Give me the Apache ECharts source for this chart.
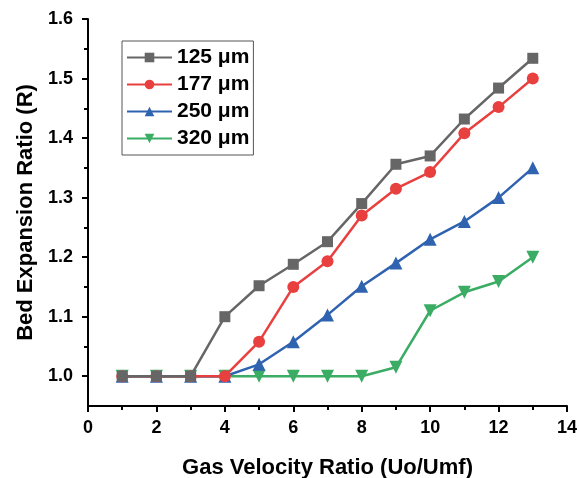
<!DOCTYPE html>
<html><head><meta charset="utf-8">
<script src="https://cdn.jsdelivr.net/npm/echarts@6/dist/echarts.min.js"></script>
<style>html,body{margin:0;padding:0;background:#fff}#c{width:580px;height:478px}</style>
</head><body><div id="c"></div>
<script>
const xValues = [1,2,3,4,5,6,7,8,9,10,11,12,13];
const s125 = [1.0,1.0,1.0,1.10,1.152,1.188,1.226,1.29,1.356,1.37,1.432,1.484,1.534];
const s177 = [1.0,1.0,1.0,1.0,1.058,1.15,1.193,1.27,1.315,1.343,1.408,1.452,1.50];
const s250 = [1.0,1.0,1.0,1.0,1.02,1.058,1.103,1.151,1.19,1.23,1.26,1.30,1.35];
const s320 = [1.0,1.0,1.0,1.0,1.0,1.0,1.0,1.0,1.015,1.11,1.141,1.159,1.20];
const names = ['125 μm','177 μm','250 μm','320 μm'];
const yTicks = [1.0,1.1,1.2,1.3,1.4,1.5,1.6];
const yMinorTicks = [1.05,1.15,1.25,1.35,1.45,1.55];
const colors = ['#666666','#e8403f','#2f63b0','#3aac64'];
const symbols = ['rect','circle','triangle','path://M0,0 L10,0 L5,9 Z'];
const sizes = [11,12,13,13];
const all = [s125,s177,s250,s320];
const chart = echarts.init(document.getElementById('c'));
const F = 'Arial, Liberation Sans, sans-serif';
const tickStyle = {width:2,color:'#000'};
chart.setOption({
  animation:false,
  grid:{left:88,right:13,top:19,bottom:72,containLabel:false,outerBoundsMode:'none'},
  legend:{
    left:122,top:41,orient:'vertical',itemWidth:45,itemHeight:12,itemGap:6,
    borderColor:'#555',borderWidth:1,padding:[6,4,6,4],
    textStyle:{fontFamily:F,fontWeight:'bold',fontSize:21,color:'#000'},
    data:names
  },
  xAxis:{type:'value',min:0,max:14,interval:2,
    name:'Gas Velocity Ratio (Uo/Umf)',nameLocation:'middle',nameGap:51,
    nameTextStyle:{fontFamily:F,fontWeight:'bold',fontSize:22,color:'#000'},
    axisLine:{lineStyle:{color:'#000',width:2}},
    axisTick:{inside:false,length:6,lineStyle:tickStyle},
    minorTick:{show:true,splitNumber:2,length:4,lineStyle:tickStyle},
    axisLabel:{fontFamily:F,fontWeight:'bold',fontSize:18,color:'#000',margin:13},
    splitLine:{show:false}},
  yAxis:[{type:'value',min:0.95,max:1.6,
    name:'Bed Expansion Ratio (R)',nameLocation:'middle',nameGap:51,
    nameTextStyle:{fontFamily:F,fontWeight:'bold',fontSize:22,color:'#000'},
    axisLine:{show:true,lineStyle:{color:'#000',width:2}},
    axisTick:{show:true,length:6,lineStyle:tickStyle,customValues:yTicks},
    axisLabel:{fontFamily:F,fontWeight:'bold',fontSize:18,color:'#000',margin:15,
      customValues:yTicks,formatter:v=>v.toFixed(1)},
    splitLine:{show:false}},
   {type:'value',min:0.95,max:1.6,position:'left',
    axisLine:{show:false},axisLabel:{show:false},splitLine:{show:false},
    axisTick:{show:true,length:4,lineStyle:tickStyle,customValues:yMinorTicks}}],
  series: all.map((d,i)=>({
    name:names[i],type:'line',data:d.map((v,j)=>[xValues[j],v]),
    symbol:symbols[i],symbolSize:sizes[i],showAllSymbol:true,
    itemStyle:{color:colors[i]},lineStyle:{color:colors[i],width:2.5},z:10-i
  }))
});
</script></body></html>
